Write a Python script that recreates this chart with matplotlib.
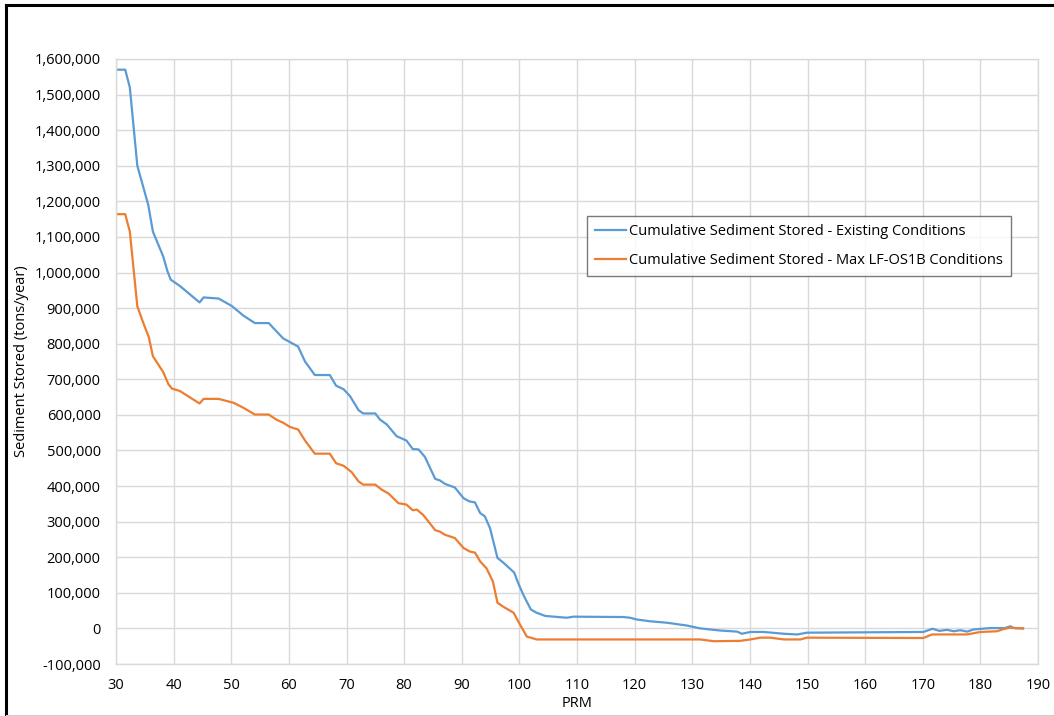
import matplotlib
matplotlib.use("Agg")
import matplotlib.pyplot as plt
from matplotlib.lines import Line2D
from matplotlib.ticker import FuncFormatter, MultipleLocator

# River mile (PRM) and cumulative sediment stored, tons/year
prm_existing = [30.0, 31.6, 32.4, 33.7, 35.6, 36.4, 38.2, 38.9, 39.5, 41.1,
                44.5, 45.2, 47.8, 50.1, 52.1, 54.1, 56.5, 59.0, 61.6, 62.8,
                64.5, 67.1, 68.2, 69.5, 70.6, 72.1, 72.9, 75.0, 75.8, 77.0,
                78.7, 80.4, 81.5, 82.5, 83.6, 85.4, 86.2, 87.1, 88.8, 90.3,
                91.3, 92.3, 93.2, 94.0, 94.9, 96.2, 97.2, 99.1, 99.8, 100.7,
                101.1, 102.0, 103.0, 104.5, 108.2, 109.4, 118.0, 119.2, 120.4, 122.7,
                125.6, 129.1, 131.4, 134.9, 137.8, 138.6, 140.1, 142.4, 145.9, 148.2,
                149.9, 170.1, 171.7, 172.9, 174.2, 175.4, 176.5, 177.7, 178.8, 181.7,
                184.3, 185.2, 185.8, 187.4]
stored_existing = [1570000, 1570000, 1520000, 1300000, 1190000, 1115000, 1045000, 1005000, 980000, 962000,
                   916000, 930000, 927000, 906000, 879000, 858000, 858000, 815000, 792000, 750000,
                   712000, 712000, 682000, 672000, 653000, 613000, 604000, 604000, 587000, 573000,
                   540000, 528000, 504000, 503000, 482000, 420000, 416000, 406000, 396000, 366000,
                   357000, 354000, 324000, 315000, 282000, 198000, 185000, 157000, 127000, 94000,
                   81000, 53000, 44000, 35000, 30000, 33000, 32000, 30000, 25000, 20000,
                   16000, 8000, 0, -6000, -9000, -15000, -10000, -10000, -15000, -17000,
                   -12000, -10000, -1000, -7000, -4000, -8000, -5000, -9000, -3000, 1000,
                   1000, 6000, 1000, 0]

prm_lfos1b = [30.0, 31.6, 32.4, 33.7, 34.7, 35.7, 36.4, 38.2, 39.1, 39.7,
              41.1, 44.5, 45.2, 47.8, 50.4, 52.1, 54.1, 56.5, 57.9, 59.0,
              60.2, 61.6, 62.8, 64.5, 67.1, 68.2, 69.5, 70.9, 72.1, 72.9,
              75.0, 76.1, 77.3, 79.0, 80.4, 81.5, 82.2, 83.3, 85.4, 86.2,
              87.1, 88.8, 90.3, 91.4, 92.3, 93.2, 94.3, 95.4, 96.2, 97.2,
              99.0, 100.1, 101.3, 103.0, 131.4, 133.7, 138.3, 140.1, 141.8, 143.5,
              145.9, 148.8, 149.9, 170.1, 171.6, 177.7, 180.0, 182.9, 183.8, 185.0,
              187.4]
stored_lfos1b = [1164000, 1164000, 1115000, 905000, 860000, 818000, 765000, 720000, 686000, 674000,
                 667000, 632000, 645000, 645000, 634000, 620000, 601000, 601000, 586000, 578000,
                 566000, 559000, 528000, 491000, 491000, 464000, 457000, 439000, 413000, 404000,
                 404000, 390000, 379000, 352000, 348000, 332000, 334000, 319000, 276000, 272000,
                 263000, 254000, 226000, 216000, 213000, 188000, 169000, 132000, 72000, 61000,
                 44000, 11000, -23000, -31000, -31000, -36000, -35000, -31000, -26000, -26000,
                 -31000, -31000, -26000, -27000, -17000, -17000, -10000, -8000, -3000, 2000,
                 0]

labels = ["Cumulative Sediment Stored - Existing Conditions",
          "Cumulative Sediment Stored - Max LF-OS1B Conditions"]

blue = "#5B9BD5"
orange = "#ED7D31"
grid_color = "#D9D9D9"

plt.rcParams["font.family"] = ["Open Sans", "DejaVu Sans"]

fig = plt.figure(figsize=(10.54, 7.16), dpi=100)
ax = fig.add_axes([116 / 1054, 1 - 664 / 716, (1038 - 116) / 1054, (664 - 59) / 716])

ax.plot(prm_existing, stored_existing, color=blue, lw=1.6, label=labels[0])
ax.plot(prm_lfos1b, stored_lfos1b, color=orange, lw=1.6, label=labels[1])

ax.set_xlim(30, 190)
ax.set_ylim(-100000, 1600000)
ax.xaxis.set_major_locator(MultipleLocator(10))
ax.yaxis.set_major_locator(MultipleLocator(100000))
ax.yaxis.set_major_formatter(FuncFormatter(lambda v, _: f"{v:,.0f}"))

ax.grid(True, color=grid_color, lw=1.0)
ax.set_axisbelow(True)
for side in ax.spines.values():
    side.set_color(grid_color)
    side.set_linewidth(1.0)
ax.tick_params(length=0, labelsize=10.5, labelcolor="black")
ax.tick_params(axis="y", pad=11)
ax.tick_params(axis="x", pad=10)

ax.set_xlabel("PRM", fontsize=10.5, labelpad=2)
ax.set_ylabel("Sediment Stored (tons/year)", fontsize=10.5, labelpad=4)

leg = ax.legend(loc="upper left", bbox_to_anchor=(587 / 1054, 1 - 216 / 716),
                bbox_transform=fig.transFigure, borderaxespad=0, fontsize=10.5,
                frameon=True, fancybox=False, shadow=False, handlelength=2.1,
                handletextpad=0.25, labelspacing=0.95, borderpad=0.55)
leg.get_frame().set_edgecolor("#595959")
leg.get_frame().set_linewidth(1.0)

# outer frame of the figure
fig.add_artist(Line2D([6 / 1054, 1], [1 - 5 / 716, 1 - 5 / 716],
                      transform=fig.transFigure, color="black", lw=2.2))
fig.add_artist(Line2D([6 / 1054, 6 / 1054], [1 - 5 / 716, 0],
                      transform=fig.transFigure, color="black", lw=2.2))
fig.add_artist(Line2D([6 / 1054, 1], [1 - 715 / 716, 1 - 715 / 716],
                      transform=fig.transFigure, color="#D0D0D0", lw=0.8))

fig.savefig("out.png", dpi=100)
